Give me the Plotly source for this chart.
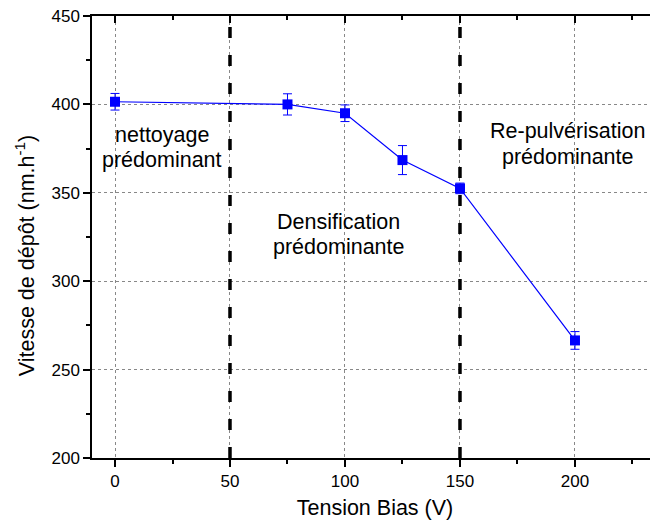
import plotly.graph_objects as go

# data
bias = [0, 75, 100, 125, 150, 200]
vitesse = [401.5, 400, 395, 368.5, 352.5, 266.5]
erreur = [4.7, 6, 4.7, 8.2, 3, 5]
limites = [50, 150]

# zone labels, one entry per text line
zones_x = [20.5, 20.5, 97.1, 97.1, 196.7, 196.7]
zones_y = [382.9, 368.8, 333.5, 319.3, 385.2, 370.5]
zones_txt = ["nettoyage", "prédominant", "Densification", "prédominante",
             "Re-pulvérisation", "prédominante"]

fig = go.Figure()

fig.add_trace(go.Scatter(
    x=bias, y=vitesse, mode='lines+markers',
    line=dict(color='#0000ff', width=1.2),
    marker=dict(symbol='square', size=10, color='#0000ff'),
    error_y=dict(type='data', array=erreur, color='#0000ff', thickness=1, width=4.5),
    showlegend=False,
))

# invisible trace so the top axis gets drawn
fig.add_trace(go.Scatter(x=[bias[0]], y=[vitesse[0]], xaxis='x2', mode='markers',
                         marker=dict(opacity=0), showlegend=False, hoverinfo='skip'))

for xv in limites:
    fig.add_shape(type='line', xref='x', yref='y', x0=xv, x1=xv, y0=200, y1=450,
                  line=dict(color='black', width=3.5, dash='11px,17px'), layer='above')

for xv, yv, txt in zip(zones_x, zones_y, zones_txt):
    fig.add_annotation(x=xv, y=yv, text=txt, showarrow=False,
                       font=dict(size=21.5, color='black'), align='center')

# y title as annotation so it can sit a little below the centre like the original
fig.add_annotation(x=-0.118, y=0.457, xref='paper', yref='paper', textangle=-90,
                   text='Vitesse de dépôt (nm.h<sup>-1</sup>)', showarrow=False,
                   font=dict(size=21.5, color='black'), xanchor='center', yanchor='middle')

axis_font = dict(family='Liberation Sans, Arial, sans-serif', size=17, color='black')

# page body has an 8px margin, so the figure is 8px smaller than the window
fig.update_layout(
    width=650, height=519,
    margin=dict(l=84, r=0, t=8, b=69),
    plot_bgcolor='white', paper_bgcolor='white',
    font=dict(family='Liberation Sans, Arial, sans-serif', color='black'),
    xaxis=dict(
        range=[-10, 236.1], tickvals=[0, 50, 100, 150, 200], tickfont=axis_font,
        ticklabeloverflow='allow',
        showline=True, linecolor='black', linewidth=1.5,
        ticks='outside', ticklen=7, tickwidth=1.5, tickcolor='black',
        minor=dict(dtick=25, tick0=0, ticks='outside', ticklen=4, tickwidth=1.5, tickcolor='black', showgrid=False),
        showgrid=True, gridcolor='#888', griddash='dot', gridwidth=1,
        zeroline=False,
        title=dict(text='Tension Bias (V)', font=dict(size=21.5), standoff=10),
    ),
    xaxis2=dict(
        range=[-10, 236.1], overlaying='x', side='top', tickvals=[0, 50, 100, 150, 200],
        showticklabels=False, showline=True, linecolor='black', linewidth=1.5,
        ticks='inside', ticklen=7, tickwidth=1.5, tickcolor='black',
        minor=dict(dtick=25, tick0=0, ticks='inside', ticklen=4, tickwidth=1.5, tickcolor='black', showgrid=False),
        showgrid=False, zeroline=False,
    ),
    yaxis=dict(
        range=[200, 450], tickvals=[200, 250, 300, 350, 400, 450], tickfont=axis_font,
        ticklabeloverflow='allow',
        showline=True, linecolor='black', linewidth=1.5,
        ticks='outside', ticklen=7, tickwidth=1.5, tickcolor='black',
        minor=dict(dtick=25, tick0=200, ticks='outside', ticklen=4, tickwidth=1.5, tickcolor='black', showgrid=False),
        showgrid=True, gridcolor='#888', griddash='dot', gridwidth=1,
        zeroline=False,
    ),
)

fig.write_html("out.html")
